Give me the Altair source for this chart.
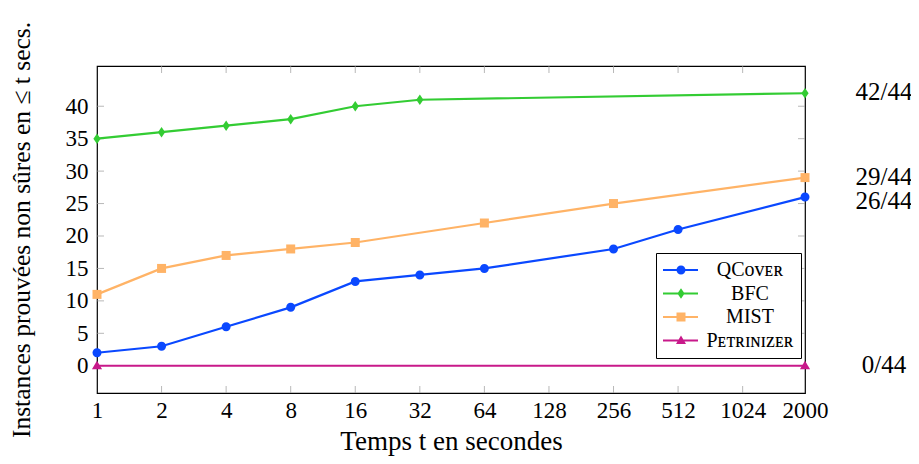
import altair as alt
import pandas as pd

# ---- data ----
series = ["QCover", "BFC", "MIST", "Petrinizer"]
legend_labels = ["QCᴏᴠᴇʀ", "BFC", "MIST", "Pᴇᴛʀɪɴɪᴢᴇʀ"]
colors = ["#0a48ff", "#33cc33", "#ffb366", "#c8198a"]

times_qcover = [1, 2, 4, 8, 16, 32, 64, 256, 512, 2000]
vals_qcover = [2, 3, 6, 9, 13, 14, 15, 18, 21, 26]
times_bfc = [1, 2, 4, 8, 16, 32, 2000]
vals_bfc = [35, 36, 37, 38, 40, 41, 42]
times_mist = [1, 2, 4, 8, 16, 64, 256, 2000]
vals_mist = [11, 15, 17, 18, 19, 22, 25, 29]
times_petri = [1, 2000]
vals_petri = [0, 0]
total_instances = 44

x_ticks = [1, 2, 4, 8, 16, 32, 64, 128, 256, 512, 1024, 2000]
y_ticks = [0, 5, 10, 15, 20, 25, 30, 35, 40]

FONT = "Liberation Serif"

# ---- tables ----
all_times = [times_qcover, times_bfc, times_mist, times_petri]
all_vals = [vals_qcover, vals_bfc, vals_mist, vals_petri]
rows = []
for lab, ts, vs in zip(legend_labels, all_times, all_vals):
    for t, v in zip(ts, vs):
        rows.append({"t": t, "n": v, "solver": lab})
df = pd.DataFrame(rows)

final_df = pd.DataFrame({
    "solver": series,
    "t": [ts[-1] for ts in all_times],
    "n": [vs[-1] for vs in all_vals],
})
final_df["label"] = final_df["n"].astype(int).astype(str) + "/" + str(total_instances)

# marker shapes for the plot (unit box, size 1225 -> 35 px box)
SZ = 1225
m_circle = "M-0.257,0 A0.257,0.257 0 1,1 0.257,0 A0.257,0.257 0 1,1 -0.257,0 Z"
m_diamond = "M0,-0.3 L0.206,0 L0,0.3 L-0.206,0 Z"
m_square = "M-0.257,-0.257 L0.257,-0.257 L0.257,0.257 L-0.257,0.257 Z"
m_triangle = "M0,-0.29 L0.29,0.2 L-0.29,0.2 Z"
markers = [m_circle, m_diamond, m_square, m_triangle]

# legend symbols (size 400 -> 1 unit = 10 px): line sample + marker
LSZ = 400
l_bar = "M-1,-0.1 L2.5,-0.1 L2.5,0.1 L-1,0.1 Z "
l_circle = "M0.35,0 A0.45,0.45 0 1,1 1.25,0 A0.45,0.45 0 1,1 0.35,0 Z"
l_diamond = "M0.8,-0.52 L1.16,0 L0.8,0.52 L0.44,0 Z"
l_square = "M0.35,-0.45 L1.25,-0.45 L1.25,0.45 L0.35,0.45 Z"
l_triangle = "M0.8,-0.5 L1.3,0.35 L0.3,0.35 Z"
legend_shapes = [l_bar + m for m in [l_circle, l_diamond, l_square, l_triangle]]

x_scale = alt.Scale(type="log", base=2, domain=[1, 2000], nice=False)
y_scale = alt.Scale(domain=[-4.2, 46.2], nice=False, zero=False)
color_scale = alt.Scale(domain=legend_labels, range=colors)

x_enc = alt.X("t:Q", scale=x_scale,
              axis=alt.Axis(values=x_ticks, ticks=False, domain=False, grid=False,
                            format="d", labelOverlap=False, labelFlush=False,
                            labelPadding=6, title="Temps t en secondes",
                            titlePadding=6, titleFontSize=27))
y_enc = alt.Y("n:Q", scale=y_scale,
              axis=alt.Axis(values=y_ticks, ticks=False, domain=False, grid=False,
                            labelPadding=9,
                            title="Instances prouvées non sûres en ≤ t secs.",
                            titlePadding=31, titleFontSize=25.5))

base = alt.Chart(df)

lines = base.mark_line(strokeWidth=2.2, clip=False).encode(
    x=x_enc, y=y_enc,
    color=alt.Color("solver:N", scale=color_scale),
    detail="solver:N",
)

marker_layers = []
for lab, shp in zip(legend_labels, markers):
    marker_layers.append(
        base.transform_filter(alt.datum.solver == lab)
        .mark_point(filled=True, opacity=1, clip=False)
        .encode(x="t:Q", y="n:Q",
                color=alt.Color("solver:N", scale=color_scale),
                shape=alt.value(shp), size=alt.value(SZ))
    )

legend_layer = base.mark_point(filled=True, opacity=0, clip=True).encode(
    x="t:Q", y="n:Q",
    color=alt.Color("solver:N", scale=color_scale, title=None),
    shape=alt.Shape("solver:N", scale=alt.Scale(domain=legend_labels, range=legend_shapes),
                    title=None),
    size=alt.value(LSZ),
)

# inward ticks (clipped half-ticks at frame edges)
tick_color = "#9a9a9a"
yt = pd.DataFrame({"v": y_ticks})
xt = pd.DataFrame({"v": [v for v in x_ticks if v not in (1, 2000)]})
ticks_left = alt.Chart(yt).mark_tick(orient="horizontal", size=14, thickness=1,
                                     color=tick_color, clip=True).encode(
    y=alt.Y("v:Q"), x=alt.datum(1))
ticks_right = alt.Chart(yt).mark_tick(orient="horizontal", size=14, thickness=1,
                                      color=tick_color, clip=True).encode(
    y=alt.Y("v:Q"), x=alt.datum(2000))
ticks_bottom = alt.Chart(xt).mark_tick(orient="vertical", size=14, thickness=1,
                                       color=tick_color, clip=True).encode(
    x=alt.X("v:Q"), y=alt.datum(-4.2))
ticks_top = alt.Chart(xt).mark_tick(orient="vertical", size=14, thickness=1,
                                    color=tick_color, clip=True).encode(
    x=alt.X("v:Q"), y=alt.datum(46.2))

annot_base = alt.Chart(final_df)
annot_main = annot_base.transform_filter(alt.datum.solver != "QCover").mark_text(
    font=FONT, fontSize=25, align="center", baseline="middle", dx=79, dy=-1,
    clip=False, color="black").encode(x="t:Q", y="n:Q", text="label:N")
annot_q = annot_base.transform_filter(alt.datum.solver == "QCover").mark_text(
    font=FONT, fontSize=25, align="center", baseline="middle", dx=79, dy=4,
    clip=False, color="black").encode(x="t:Q", y="n:Q", text="label:N")

chart = alt.layer(
    ticks_left, ticks_right, ticks_bottom, ticks_top,
    lines, *marker_layers, legend_layer, annot_main, annot_q
).properties(
    width=708, height=327,
    autosize=alt.AutoSizeParams(type="none"),
    padding={"left": 89, "top": 58, "right": 106, "bottom": 63},
).configure_view(
    stroke="black", strokeWidth=1.2
).configure_axis(
    labelFont=FONT, titleFont=FONT, labelFontSize=23,
    labelColor="black", titleColor="black", titleFontWeight="normal",
).configure_legend(
    orient="none", legendX=559, legendY=187,
    strokeColor="black", fillColor="white", padding=7,
    labelFont=FONT, labelFontSize=20, labelColor="black",
    labelAlign="center", labelOffset=67,
    symbolOpacity=1, symbolSize=LSZ, symbolStrokeWidth=0,
    rowPadding=3.5, cornerRadius=0,
)

chart.save("out.html", embed_options={"renderer": "svg", "actions": False})
